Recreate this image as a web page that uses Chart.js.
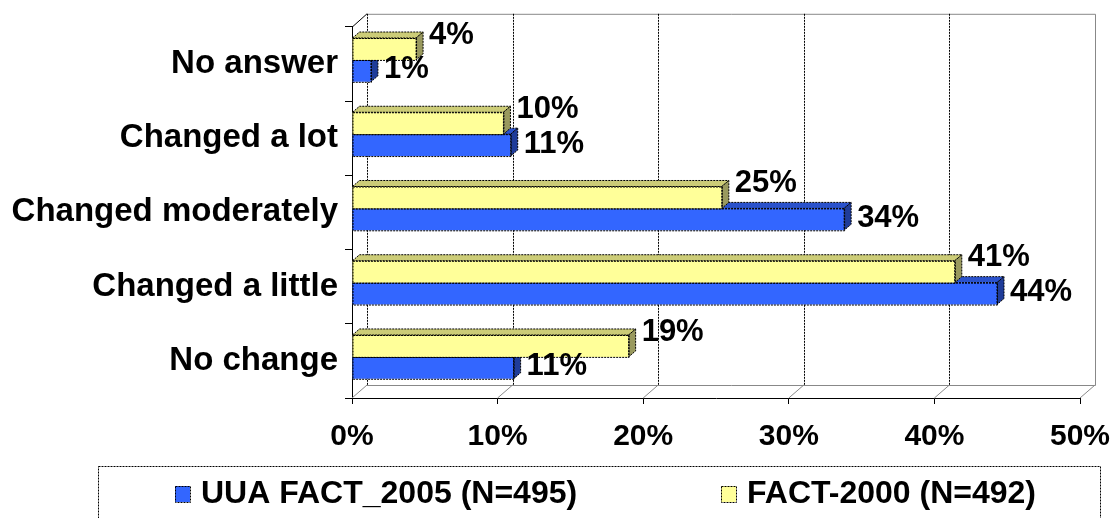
<!DOCTYPE html>
<html>
<head>
<meta charset="utf-8">
<script src="https://cdn.jsdelivr.net/npm/chart.js@4/dist/chart.umd.min.js"></script>
<style>
  body { margin: 0; background: #fff; }
  canvas { display: block; }
</style>
</head>
<body>
<canvas id="chart" width="1116" height="518"></canvas>
<script>
// Data
const categories = ["No answer", "Changed a lot", "Changed moderately", "Changed a little", "No change"];
const fact2000 = [4.4, 10.4, 25.4, 41.4, 19.0];
const uua2005 = [1.3, 10.9, 33.8, 44.3, 11.1];
const seriesNames = ["FACT-2000 (N=492)", "UUA FACT_2005 (N=495)"];
const xTicks = [0, 10, 20, 30, 40, 50];

const FONT = "'Liberation Sans', Arial, sans-serif";
// depth of the back wall and of the bars
const wallDx = 15, wallDy = 13;
const barDx = 7, barDy = 6;
const barLift = 4; // bars sit a little above the band centre in the 3D view

const faceColors = [
  { front: "#FFFF99", top: "#CCCC77", side: "#99995E" },
  { front: "#3366FF", top: "#2A52CC", side: "#1F3C99" }
];

// Back wall, floor and gridlines behind the bars
const wallPlugin = {
  id: "wall",
  beforeDatasetsDraw(chart) {
    const ctx = chart.ctx;
    const x = chart.scales.x;
    const a = chart.chartArea;
    ctx.save();
    ctx.lineWidth = 1;
    // gray outline of the wall
    ctx.strokeStyle = "#888";
    ctx.setLineDash([]);
    ctx.beginPath();
    ctx.moveTo(a.left + wallDx, a.top - wallDy + 0.5);
    ctx.lineTo(a.right + wallDx + 0.5, a.top - wallDy + 0.5);
    ctx.lineTo(a.right + wallDx + 0.5, a.bottom - wallDy + 0.5);
    ctx.lineTo(a.left + wallDx, a.bottom - wallDy + 0.5);
    ctx.stroke();
    // floor diagonals from every tick
    xTicks.forEach(t => {
      const px = x.getPixelForValue(t);
      ctx.beginPath();
      ctx.moveTo(px, a.bottom);
      ctx.lineTo(px + wallDx, a.bottom - wallDy);
      ctx.stroke();
    });
    // dotted gridlines on the back wall
    ctx.strokeStyle = "#000";
    ctx.setLineDash([2, 1]);
    xTicks.slice(0, -1).forEach(t => {
      const px = Math.round(x.getPixelForValue(t) + wallDx) + 0.5;
      ctx.beginPath();
      ctx.moveTo(px, a.top - wallDy);
      ctx.lineTo(px, a.bottom - wallDy);
      ctx.stroke();
    });
    // left wall diagonal at the top
    ctx.setLineDash([]);
    ctx.beginPath();
    ctx.moveTo(a.left + 0.5, a.top);
    ctx.lineTo(a.left + wallDx, a.top - wallDy);
    ctx.stroke();
    ctx.restore();
  }
};

// Top and right faces for each bar
const barFacesPlugin = {
  id: "barFaces",
  beforeDatasetDraw(chart) {
    chart.ctx.save();
    chart.ctx.translate(0, -barLift);
  },
  afterDatasetDraw(chart, args) {
    const ctx = chart.ctx;
    const c = faceColors[args.index];
    ctx.save();
    ctx.lineWidth = 1;
    args.meta.data.forEach(bar => {
      const l = bar.base, r = bar.x;
      const t = bar.y - bar.height / 2, b = bar.y + bar.height / 2;
      ctx.setLineDash([2, 1]);
      ctx.strokeStyle = "#000";
      ctx.fillStyle = c.top;
      ctx.beginPath();
      ctx.moveTo(l, t);
      ctx.lineTo(l + barDx, t - barDy);
      ctx.lineTo(r + barDx, t - barDy);
      ctx.lineTo(r, t);
      ctx.closePath();
      ctx.fill();
      ctx.stroke();
      ctx.fillStyle = c.side;
      ctx.beginPath();
      ctx.moveTo(r, t);
      ctx.lineTo(r + barDx, t - barDy);
      ctx.lineTo(r + barDx, b - barDy);
      ctx.lineTo(r, b);
      ctx.closePath();
      ctx.fill();
      ctx.stroke();
      ctx.strokeRect(l + 0.5, t + 0.5, r - l, b - t);
    });
    ctx.restore();
    ctx.restore();
  }
};

// Value labels and legend box
const labelsPlugin = {
  id: "labels",
  afterDatasetsDraw(chart) {
    const ctx = chart.ctx;
    ctx.save();
    ctx.fillStyle = "#000";
    ctx.font = "bold 31px " + FONT;
    ctx.textAlign = "left";
    ctx.textBaseline = "middle";
    chart.data.datasets.forEach((ds, i) => {
      chart.getDatasetMeta(i).data.forEach((bar, j) => {
        const top = bar.y - bar.height / 2 - barLift;
        const y = i === 0 ? top - 3 : bar.y - barLift - 1;
        ctx.fillText(Math.round(ds.data[j]) + "%", bar.x + barDx + 6, y);
      });
    });
    ctx.restore();
  },
  afterDraw(chart) {
    const ctx = chart.ctx;
    ctx.save();
    ctx.strokeStyle = "#000";
    ctx.lineWidth = 1;
    ctx.setLineDash([2, 1]);
    ctx.strokeRect(98.5, 466.5, 1002, 80);
    const items = [
      { name: seriesNames[1], color: faceColors[1].front, x: 175 },
      { name: seriesNames[0], color: faceColors[0].front, x: 721 }
    ];
    ctx.font = "bold 32px " + FONT;
    ctx.textBaseline = "alphabetic";
    items.forEach(it => {
      ctx.fillStyle = it.color;
      ctx.fillRect(it.x, 486, 15, 16);
      ctx.strokeRect(it.x + 0.5, 486.5, 15, 16);
      ctx.fillStyle = "#000";
      ctx.fillText(it.name, it.x + 26, 503);
    });
    ctx.restore();
  }
};

new Chart(document.getElementById("chart"), {
  type: "bar",
  data: {
    labels: categories,
    datasets: [
      { label: seriesNames[0], data: fact2000, backgroundColor: faceColors[0].front, borderWidth: 0 },
      { label: seriesNames[1], data: uua2005, backgroundColor: faceColors[1].front, borderWidth: 0 }
    ]
  },
  options: {
    indexAxis: "y",
    responsive: false,
    animation: false,
    categoryPercentage: 0.59,
    barPercentage: 1,
    layout: { padding: { left: 0, right: 36, top: 23, bottom: 60 } },
    plugins: { legend: { display: false }, tooltip: { enabled: false } },
    scales: {
      x: {
        min: 0,
        max: 50,
        afterBuildTicks: s => { s.ticks = xTicks.map(v => ({ value: v })); },
        afterFit: s => { s.height = 60; s.paddingLeft = 0; s.paddingRight = 0; },
        border: { color: "#000", width: 1 },
        grid: { drawOnChartArea: false, tickLength: 6, color: "#000" },
        ticks: {
          color: "#000",
          padding: 15,
          font: { family: FONT, size: 30, weight: "bold" },
          callback: v => v + "%"
        }
      },
      y: {
        afterFit: s => { s.width = 352; },
        border: { color: "#000", width: 1 },
        grid: { offset: true, drawOnChartArea: false, tickLength: 7, color: "#000" },
        ticks: {
          color: "#000",
          padding: 7,
          font: { family: FONT, size: 33, weight: "bold" }
        }
      }
    }
  },
  plugins: [wallPlugin, barFacesPlugin, labelsPlugin]
});
</script>
</body>
</html>
